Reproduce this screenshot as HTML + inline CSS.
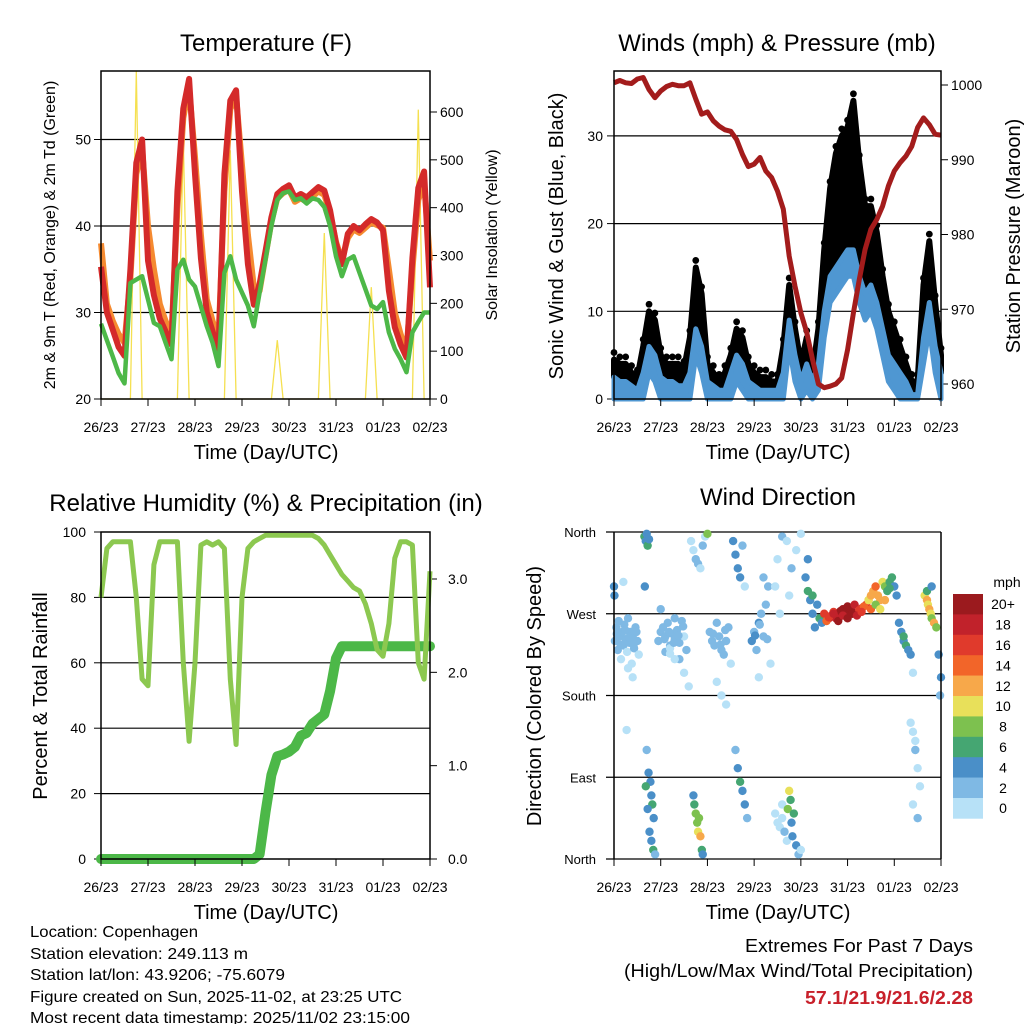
<!DOCTYPE html>
<html><head><meta charset="utf-8">
<style>
html,body{margin:0;padding:0;background:#fff;}
svg{display:block;font-family:"Liberation Sans",Arial,sans-serif;}
</style></head>
<body>
<svg id="chart" width="1024" height="1024" viewBox="0 0 1024 1024" xmlns="http://www.w3.org/2000/svg">
<rect width="1024" height="1024" fill="#fff"/>
<g id="g-temp"></g>
<g id="g-wind"></g>
<g id="g-rh"></g>
<g id="g-dir"></g>
<g font-size="16" fill="#000">
<text x="30" y="937" textLength="168" lengthAdjust="spacingAndGlyphs">Location: Copenhagen</text>
<text x="30" y="959" textLength="218" lengthAdjust="spacingAndGlyphs">Station elevation: 249.113 m</text>
<text x="30" y="980" textLength="255" lengthAdjust="spacingAndGlyphs">Station lat/lon: 43.9206; -75.6079</text>
<text x="30" y="1002" textLength="372" lengthAdjust="spacingAndGlyphs">Figure created on Sun, 2025-11-02, at 23:25 UTC</text>
<text x="30" y="1023" textLength="380" lengthAdjust="spacingAndGlyphs">Most recent data timestamp: 2025/11/02 23:15:00</text>
</g>
<g font-size="18">
<text x="745" y="952" textLength="228" lengthAdjust="spacingAndGlyphs">Extremes For Past 7 Days</text>
<text x="624" y="977" textLength="349" lengthAdjust="spacingAndGlyphs">(High/Low/Max Wind/Total Precipitation)</text>
<text x="805" y="1004" textLength="168" lengthAdjust="spacingAndGlyphs" fill="#c8202a" font-weight="bold">57.1/21.9/21.6/2.28</text>
</g>
</svg>
<script>
// ---- shared time axis (days since 26/23), 3-hour steps ----
const dayLabels = ["26/23","27/23","28/23","29/23","30/23","31/23","01/23","02/23"];
const timeDays = [];
for (let i = 0; i <= 56; i++) timeDays.push(i / 8);

// ---- temperature panel data ----
const temp2m = [35.3,30,28,26,25,35,47.3,50,36,32,29.3,27.8,26.3,44,53.6,57,46,36.3,30,27.8,25.5,46,54.5,55.7,44,35.6,30.9,33.3,37.1,41,43.7,44.3,44.7,43.3,43.7,43.3,43.9,44.5,44.1,41.8,38,35.6,39.1,40,39.5,40.2,40.8,40.4,39.5,32.5,28.3,26.3,24.8,36.3,44.4,46.3,32.9];
const temp9m = [38,31,29,27.5,26.5,34,46,49,40,35,31,29,27.5,42,52.5,56,48,39,31.5,29,27,44,53.5,55,47,39,33,32.5,36.5,40.5,43.2,43.8,44.2,42.8,43.2,42.8,43.4,44,43.6,41.5,38.2,36,38.6,39.6,39.2,39.8,40.4,40.1,39.8,35,30,27.5,25.5,35,43,45,36];
const dewpoint = [28.7,26.8,24.9,23,21.8,33.4,33.8,34.2,31.5,28.8,28.4,26.5,24.6,35,36.1,33.8,33,30.7,28.4,26.5,23.8,34.6,36.5,33.8,32.3,30.8,28.4,32.3,36.1,40,43,43.8,44,43,43.2,42.6,43.2,43,42.2,40,36.5,34.2,36.1,36.5,34.6,32.7,30.8,30.4,31.2,27.7,25.8,24.6,23.1,27.7,28.9,30,30];
const solar = [0,0,0,0,0,0,685,0,0,0,0,0,0,0,540,0,0,0,0,0,0,0,520,0,0,0,0,0,0,0,123,0,0,0,0,0,0,0,347,0,0,0,0,0,0,0,234,0,0,0,0,0,0,0,605,0,0];
const tempTicks = [20,30,40,50];
const solarTicks = [0,100,200,300,400,500,600];

// ---- wind / pressure data ----
const windSpeed = [2.5,2,2,1.5,1,3,6,5,2.5,2,2,1.5,1.5,3,8,6,2,1.5,1,1,3,5,4,2,1.5,1,1,1,1,3,9,5,2,4,2,4,10,14,15,16,17,17,14,12,13,11,8,5,4,3,2,0.5,0.5,7,11,6,3];
const windGust = [4.5,4,4,3,2.5,6,10,9,5,4,4,4,3.5,7,15,12,4,3,2,3,5,8,7,4,3,2.5,2.5,2,2,6,13,8,4,7,3,8,17,24,28,30,31,34,27,22,22,19,14,10,8,6,4,2,2,13,18,11,5];
const pressure = [1000.3,1000.6,1000.3,1000.2,1000.8,1001,999.4,998.3,999.2,999.8,1000.1,999.9,999.9,1000.3,998.1,996.1,996.4,995.2,994.5,994,993.8,992.7,990.7,989.1,989.4,990.3,988.5,987.6,985.8,983.4,977.1,973.1,969.5,966.9,963.3,960,959.5,959.7,960,960.8,964.6,969.5,974,978,980.7,982,983.8,986.5,988.5,989.6,990.5,991.8,994.3,995.6,994.7,993.4,993.3];
const windTicks = [0,10,20,30];
const pressTicks = [960,970,980,990,1000];

// ---- humidity / precip data ----
const relHum = [80,95,97,97,97,97,80,55,53,90,97,97,97,97,60,36,60,96,97,96,97,95,55,35,80,95,97,98,99,99,99,99,99,99,99,99,99,98,96,93,90,87,85,83,82,78,72,64,62,72,92,97,97,96,60,55,88];
const precip = [0,0,0,0,0,0,0,0,0,0,0,0,0,0,0,0,0,0,0,0,0,0,0,0,0,0,0,0.05,0.5,0.9,1.1,1.12,1.15,1.2,1.32,1.35,1.45,1.5,1.55,1.8,2.15,2.28,2.28,2.28,2.28,2.28,2.28,2.28,2.28,2.28,2.28,2.28,2.28,2.28,2.28,2.28,2.28];
const rhTicks = [0,20,40,60,80,100];
const precipTicks = ["0.0","1.0","2.0","3.0"];

// ---- wind direction observations ----
const dirTime = [0.02,0.05,0.08,0.1,0.12,0.15,0.18,0.2,0.22,0.25,0.28,0.3,0.33,0.35,0.38,0.4,0.43,0.46,0.5,0.53,0.0,0.01,0.2,0.27,
0.65,0.68,0.7,0.72,0.75,0.66,0.7,0.74,0.78,0.8,0.82,0.85,0.68,0.72,0.76,0.8,0.84,0.88,
0.95,1.0,1.05,1.1,1.15,1.2,1.25,1.3,1.35,1.4,1.45,1.5,1.55,1.0,1.1,1.2,1.3,1.4,1.5,1.6,
1.65,1.7,1.75,1.8,1.85,1.9,1.95,2.0,1.7,1.72,1.75,1.78,1.8,1.82,1.85,1.88,1.9,
2.05,2.1,2.15,2.2,2.25,2.3,2.35,2.4,2.45,2.5,2.2,2.3,2.4,
2.55,2.6,2.65,2.7,2.75,2.8,2.6,2.65,2.7,2.75,2.8,2.85,
2.95,3.0,3.05,3.1,3.15,3.2,3.25,3.3,3.35,3.1,3.2,
3.45,3.5,3.6,3.7,3.8,3.9,4.0,3.55,3.75,
3.45,3.5,3.55,3.6,3.6,3.65,3.7,3.72,3.75,3.78,3.8,3.82,3.85,3.9,3.95,4.0,
4.1,4.15,4.2,4.25,4.3,4.35,4.4,4.45,4.15,4.25,
4.5,4.6,4.7,4.8,4.9,5.0,5.1,5.2,5.3,5.4,5.5,4.55,4.65,4.75,4.85,4.95,5.05,5.15,5.25,5.35,5.45,
5.45,5.5,5.55,5.6,5.65,5.7,5.75,5.8,5.85,5.9,5.95,6.0,6.05,5.6,5.7,5.8,5.9,
6.1,6.15,6.2,6.25,6.3,6.35,6.2,6.4,
6.35,6.4,6.45,6.5,6.55,6.4,6.5,6.45,
6.65,6.7,6.72,6.75,6.78,6.8,6.85,6.9,6.7,6.8,
6.95,7.0,6.98,
0.06,0.14,0.24,0.32,0.42,0.48,1.08,1.18,1.28,1.38,1.48,2.12,2.28,2.38,3.02,3.12,3.28,4.6,4.7,4.8,4.9,5.0,5.1,5.2,5.3,0.3,0.4,1.2,1.3];
const dirDeg = [240,255,230,262,245,220,250,235,258,242,228,265,238,250,215,245,232,255,240,225,300,290,305,142,
355,350,358,345,352,300,120,95,85,70,60,45,80,55,30,20,10,5,
240,250,255,245,260,235,248,242,252,238,262,245,230,275,228,232,265,220,205,190,
350,340,330,325,320,345,355,358,70,60,50,40,30,45,25,10,5,
250,240,235,260,245,230,225,240,255,215,195,180,170,
350,335,320,310,345,300,120,100,85,75,60,45,
240,250,230,260,270,245,280,300,215,200,310,
300,330,355,350,320,340,358,270,290,
50,40,35,45,60,30,20,55,75,65,40,25,50,15,5,10,
310,295,285,270,255,280,265,260,330,290,
270,265,272,268,275,278,272,270,276,280,275,262,268,265,273,271,276,280,274,278,285,
285,290,295,300,290,285,305,300,295,305,310,300,290,280,275,285,298,
260,250,240,235,230,225,245,205,
150,140,120,100,80,60,45,130,
290,285,280,275,270,265,260,255,295,300,
225,200,180,
248,236,252,244,236,250,242,250,238,246,256,248,236,252,246,258,242,266,270,262,268,265,270,268,272,210,200,226,220];
const dirSpeed = [2,2,3,2,2,1,2,2,3,2,1,2,2,2,1,3,2,2,2,1,4,4,1,1,
6,5,4,6,4,4,3,4,5,4,6,4,6,4,5,4,6,3,
2,2,2,3,2,2,2,3,2,2,2,1,2,3,2,1,2,2,1,1,
1,1,2,2,1,2,1,8,5,7,8,9,10,8,12,6,5,
3,3,2,2,3,3,2,2,2,1,1,1,1,
4,4,5,4,2,1,3,4,6,4,4,3,
4,3,2,4,2,2,2,2,1,1,2,
1,1,3,1,2,1,1,1,1,
1,1,1,1,1,2,1,8,10,6,5,4,6,4,3,1,
4,6,4,4,5,4,6,4,4,6,
16,18,17,19,20,21,20,18,17,16,14,14,16,19,20,21,22,19,17,15,12,
10,12,13,14,13,12,10,8,7,6,6,4,4,8,10,12,6,
4,4,5,6,4,4,6,1,
1,1,2,1,1,1,2,1,
10,12,11,12,10,8,12,9,6,4,
4,4,2,
2,2,2,2,2,2,2,2,2,2,2,3,3,2,4,3,2,17,18,20,19,20,21,18,17,1,1,1,1];
const dirTickLabels = ["North","East","South","West","North"];
const speedBinLabels = ["0","2","4","6","8","10","12","14","16","18","20+"];
const speedColors = ["#b7e1f7","#7fb9e4","#4a8fc8","#45a672","#7dc14f","#e8e05a","#f7a84a","#f26529","#e03a2c","#c1222b","#9b1a1e"];

const NS = "http://www.w3.org/2000/svg";
function el(parent, tag, attrs) {
  const e = document.createElementNS(NS, tag);
  for (const k in attrs) e.setAttribute(k, attrs[k]);
  parent.appendChild(e);
  return e;
}
function scale(d0, d1, r0, r1) { return v => r0 + (v - d0) / (d1 - d0) * (r1 - r0); }
function txt(parent, x, y, s, size, anchor, extra) {
  const t = el(parent, "text", Object.assign({x: x, y: y, "font-size": size, "text-anchor": anchor || "middle"}, extra || {}));
  t.textContent = s;
  return t;
}
function pathOf(xs, ys, fx, fy) {
  return xs.map((v, i) => (i ? "L" : "M") + fx(v).toFixed(1) + "," + fy(ys[i]).toFixed(1)).join("");
}
function frame(g, L, T, R, B) {
  const r = el(g, "rect", {x: L, y: T, width: R - L, height: B - T, fill: "none", stroke: "#000", "stroke-width": 1.5});
  
  
}
function xAxis(g, L, R, B, fx) {
  dayLabels.forEach((lab, i) => {
    const x = fx(i);
    el(g, "line", {x1: x, y1: B, x2: x, y2: B + 7, stroke: "#000", "stroke-width": 1});
    const t = txt(g, x, B + 33, lab, 14);
    
    
  });
}

// ================= Temperature panel =================
(function () {
  const g = document.getElementById("g-temp");
  const L = 101, R = 430, T = 71, B = 399;
  const fx = scale(0, 7, L, R);
  const fy = scale(20, 20 + (B - T) / 8.65, B, T);
  const fs = scale(0, 600, B, 112);
  const title = txt(g, 266, 51, "Temperature (F)", 24);
  
  
  tempTicks.forEach(v => {
    const y = fy(v);
    if (v > 20) el(g, "line", {x1: L, y1: y, x2: R, y2: y, stroke: "#000", "stroke-width": 1.2});
    el(g, "line", {x1: L - 7, y1: y, x2: L, y2: y, stroke: "#000"});
    const t = txt(g, L - 10, y + 5, String(v), 14, "end");
    
    
  });
  solarTicks.forEach(v => {
    const y = fs(v);
    el(g, "line", {x1: R, y1: y, x2: R + 7, y2: y, stroke: "#000"});
    const t = txt(g, R + 10, y + 5, String(v), 14, "start");
    
    
  });
  const ys = el(g, "path", {d: pathOf(timeDays, solar, fx, fs), fill: "none", stroke: "#f5e050", "stroke-width": 1.3});
  
  
  const o = el(g, "path", {d: pathOf(timeDays, temp9m, fx, fy), fill: "none", stroke: "#f58a30", "stroke-width": 6, "stroke-linejoin": "round"});
  
  
  const r = el(g, "path", {d: pathOf(timeDays, temp2m, fx, fy), fill: "none", stroke: "#d42a2a", "stroke-width": 6, "stroke-linejoin": "round"});
  
  
  const gr = el(g, "path", {d: pathOf(timeDays, dewpoint, fx, fy), fill: "none", stroke: "#4db848", "stroke-width": 4.5, "stroke-linejoin": "round"});
  
  
  frame(g, L, T, R, B);
  xAxis(g, L, R, B, fx);
  const xl = txt(g, 266, 459, "Time (Day/UTC)", 20);
  
  
  const yl = txt(g, 0, 0, "2m & 9m T (Red, Orange) & 2m Td (Green)", 16, "middle", {transform: "translate(55,235) rotate(-90)"});
  
  
  const yr = txt(g, 0, 0, "Solar Insolation (Yellow)", 16, "middle", {transform: "translate(497,235) rotate(-90)"});
  
  
})();

// ================= Wind / pressure panel =================
(function () {
  const g = document.getElementById("g-wind");
  const L = 614, R = 941, T = 71, B = 399;
  const fx = scale(0, 7, L, R);
  const fy = scale(0, 10, B, B - 87.7);
  const fp = scale(960, 1000, 384, 85);
  const title = txt(g, 777, 51, "Winds (mph) & Pressure (mb)", 24);
  
  
  windTicks.forEach(v => {
    const y = fy(v);
    if (v > 0) el(g, "line", {x1: L, y1: y, x2: R, y2: y, stroke: "#000", "stroke-width": 1.2});
    el(g, "line", {x1: L - 7, y1: y, x2: L, y2: y, stroke: "#000"});
    const t = txt(g, L - 11, y + 5, String(v), 14, "end");
    
    
  });
  pressTicks.forEach(v => {
    const y = fp(v);
    el(g, "line", {x1: R, y1: y, x2: R + 7, y2: y, stroke: "#000"});
    const t = txt(g, R + 10, y + 5, String(v), 14, "start");
    
    
  });
  const lowW = windSpeed.map(v => Math.max(0, v - 3));
  let d = pathOf(timeDays, windGust, fx, fy);
  d += timeDays.slice().reverse().map((t, k) => "L" + fx(t).toFixed(1) + "," + fy(windSpeed[windSpeed.length - 1 - k]).toFixed(1)).join("") + "Z";
  const gb = el(g, "path", {d: d, fill: "#000", stroke: "#000", "stroke-width": 6, "stroke-linejoin": "round"});
  
  
  windGust.forEach((v, i) => {
    const c = el(g, "circle", {cx: fx(timeDays[i]), cy: fy(v + 0.8), r: 3.4, fill: "#000"});
    
    
  });
  let d2 = pathOf(timeDays, windSpeed, fx, fy);
  d2 += timeDays.slice().reverse().map((t, k) => "L" + fx(t).toFixed(1) + "," + fy(lowW[lowW.length - 1 - k]).toFixed(1)).join("") + "Z";
  const wb = el(g, "path", {d: d2, fill: "#4f97d2", stroke: "#4f97d2", "stroke-width": 5, "stroke-linejoin": "round"});
  
  
  const pl = el(g, "path", {d: pathOf(timeDays, pressure, fx, fp), fill: "none", stroke: "#a31c1c", "stroke-width": 5, "stroke-linejoin": "round"});
  
  
  frame(g, L, T, R, B);
  xAxis(g, L, R, B, fx);
  const xl = txt(g, 778, 459, "Time (Day/UTC)", 20);
  
  
  const yl = txt(g, 0, 0, "Sonic Wind & Gust (Blue, Black)", 20, "middle", {transform: "translate(563,236) rotate(-90)"});
  
  
  const yr = txt(g, 0, 0, "Station Pressure (Maroon)", 20, "middle", {transform: "translate(1020,236) rotate(-90)"});
  
  
})();

// ================= RH / precip panel =================
(function () {
  const g = document.getElementById("g-rh");
  const L = 101, R = 430, T = 532, B = 859;
  const fx = scale(0, 7, L, R);
  const fy = scale(0, 100, B, T);
  const fp = scale(0, 3, B, 579);
  const title = txt(g, 266, 511, "Relative Humidity (%) & Precipitation (in)", 24);
  
  
  rhTicks.forEach(v => {
    const y = fy(v);
    if (v > 0 && v < 100) el(g, "line", {x1: L, y1: y, x2: R, y2: y, stroke: "#000", "stroke-width": 1.2});
    el(g, "line", {x1: L - 7, y1: y, x2: L, y2: y, stroke: "#000"});
    const t = txt(g, L - 15, y + 5, String(v), 14, "end");
    
    
  });
  precipTicks.forEach(s => {
    const y = fp(parseFloat(s));
    el(g, "line", {x1: R, y1: y, x2: R + 7, y2: y, stroke: "#000"});
    const t = txt(g, R + 18, y + 5, s, 14, "start");
    
    
  });
  const pl = el(g, "path", {d: pathOf(timeDays, precip, fx, fp), fill: "none", stroke: "#4cb848", "stroke-width": 10, "stroke-linejoin": "round", "stroke-linecap": "round"});
  
  
  const rl = el(g, "path", {d: pathOf(timeDays, relHum, fx, fy), fill: "none", stroke: "#8cc850", "stroke-width": 5, "stroke-linejoin": "round"});
  
  
  frame(g, L, T, R, B);
  xAxis(g, L, R, B, fx);
  const xl = txt(g, 266, 919, "Time (Day/UTC)", 20);
  
  
  const yl = txt(g, 0, 0, "Percent & Total Rainfall", 20, "middle", {transform: "translate(47,696) rotate(-90)"});
  
  
})();

// ================= Wind direction panel =================
(function () {
  const g = document.getElementById("g-dir");
  const L = 614, R = 941, T = 532, B = 859;
  const fx = scale(0, 7, L, R);
  const fy = scale(0, 360, B, T);
  const title = txt(g, 778, 505, "Wind Direction", 24);
  
  
  dirTickLabels.forEach((lab, i) => {
    const y = fy(i * 90);
    el(g, "line", {x1: L - 8, y1: y, x2: R, y2: y, stroke: "#000", "stroke-width": 1.2});
    const t = txt(g, L - 18, y + 5, lab, 13, "end");
    
    
  });
  dirTime.forEach((t, i) => {
    const bin = Math.min(10, Math.floor(dirSpeed[i] / 2));
    const c = el(g, "circle", {cx: fx(t), cy: fy(dirDeg[i]), r: 4.2, fill: speedColors[bin]});
    
    
  });
  el(g, "line", {x1: L, y1: T, x2: L, y2: B, stroke: "#000", "stroke-width": 1.5});
  el(g, "line", {x1: R, y1: T, x2: R, y2: B, stroke: "#000", "stroke-width": 1.5});
  xAxis(g, L, R, B, fx);
  const xl = txt(g, 778, 919, "Time (Day/UTC)", 20);
  
  
  const yl = txt(g, 0, 0, "Direction (Colored By Speed)", 20, "middle", {transform: "translate(541,696) rotate(-90)"});
  
  
  const cb = el(g, "g", {});
  
  
  const top = 594, h = 20.4;
  speedBinLabels.forEach((lab, k) => {
    const idx = 10 - k;
    const y = top + k * h;
    const r = el(cb, "rect", {x: 953, y: y, width: 30, height: h + 0.3, fill: speedColors[idx]});
    
    
    const t = txt(cb, 1003, y + h / 2 + 5, speedBinLabels[idx], 14);
    
    
  });
  const mph = txt(cb, 1007, 587, "mph", 14);
  
  
})();
</script>
</body></html>
